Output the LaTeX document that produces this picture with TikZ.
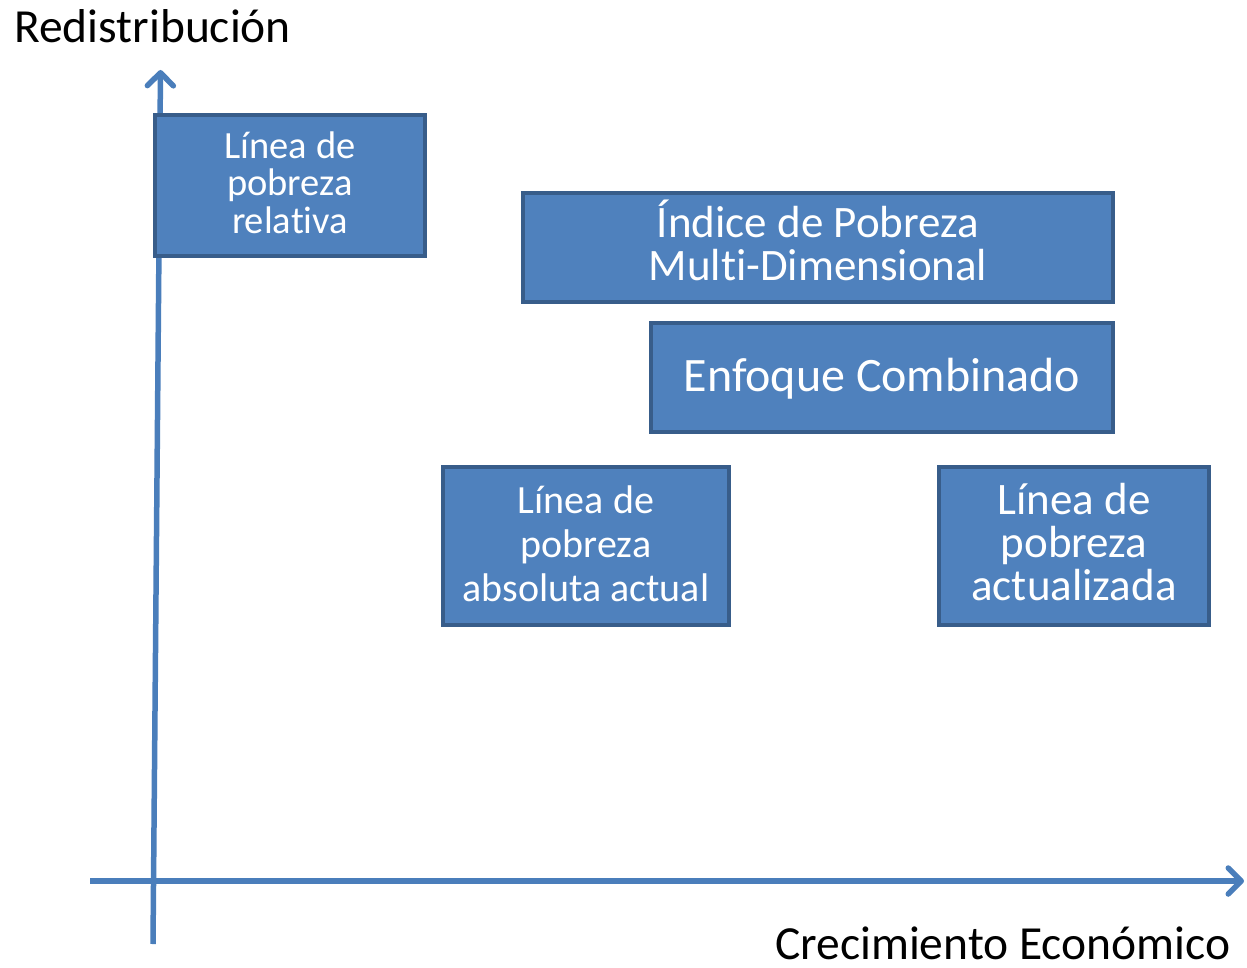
\documentclass[tikz,border=0pt]{standalone}
\usepackage{fontspec}
\setmainfont{Carlito}[Ligatures=NoCommon]
\usetikzlibrary{arrows.meta}
\definecolor{boxfill}{HTML}{4F81BD}
\definecolor{boxline}{HTML}{385D8A}
\definecolor{axiscol}{HTML}{4A7EBB}
\tikzset{
  pbox/.style={draw=boxline, fill=boxfill, line width=4.5pt, inner sep=0pt, anchor=center},
  boxtext/.style={text=white, align=center, inner sep=0pt, anchor=center},
  axisline/.style={draw=axiscol, line width=5.5pt, -{Straight Barb[length=13pt,width=26pt,line width=5.5pt,round]}},
  axislabel/.style={text=black, inner sep=0pt, font=\fontsize{47.5}{50}\selectfont}
}
\begin{document}
\begin{tikzpicture}[x=1pt,y=-1pt]
\useasboundingbox (0,0) rectangle (1247,968);
% axes
\coordinate (ybot) at (153,944);
\coordinate (ytop) at (160.5,70);
\coordinate (xleft) at (90,881);
\coordinate (xright) at (1244,881);
\draw[axisline] (ybot) -- (ytop);
\draw[axisline] (xleft) -- (xright);
% boxes
\node[pbox, minimum width=270pt, minimum height=141pt] (rel) at (290,185.5) {};
\node[pbox, minimum width=590pt, minimum height=109pt] (ipm) at (818,247.5) {};
\node[pbox, minimum width=462pt, minimum height=109pt] (comb) at (882,377.5) {};
\node[pbox, minimum width=286pt, minimum height=158pt] (abs) at (586,546) {};
\node[pbox, minimum width=270pt, minimum height=158pt] (act) at (1074,546) {};
% box texts
\node[boxtext, font=\fontsize{38.5}{37.5}\selectfont] (reltxt) at ([yshift=3pt]rel.center) {Línea de\\pobreza\\relativa};
\node[boxtext, font=\fontsize{45}{43}\selectfont] (ipmtxt) at ([yshift=7pt]ipm.center) {Índice de Pobreza\\Multi-Dimensional};
\node[boxtext, font=\fontsize{48}{50}\selectfont] (combtxt) at ([yshift=-1.5pt]comb.center) {Enfoque Combinado};
\node[boxtext, font=\fontsize{40}{44}\selectfont] (abstxt) at ([yshift=2pt]abs.center) {Línea de\\pobreza\\absoluta actual};
\node[boxtext, font=\fontsize{45}{43}\selectfont] (acttxt) at ([yshift=4pt]act.center) {Línea de\\pobreza\\actualizada};
% axis labels
\node[axislabel, anchor=base west] (ylab) at (14,43) {Redistribución};
\node[axislabel, anchor=base west] (xlab) at (775,959) {Crecimiento Económico};
\end{tikzpicture}
\end{document}
